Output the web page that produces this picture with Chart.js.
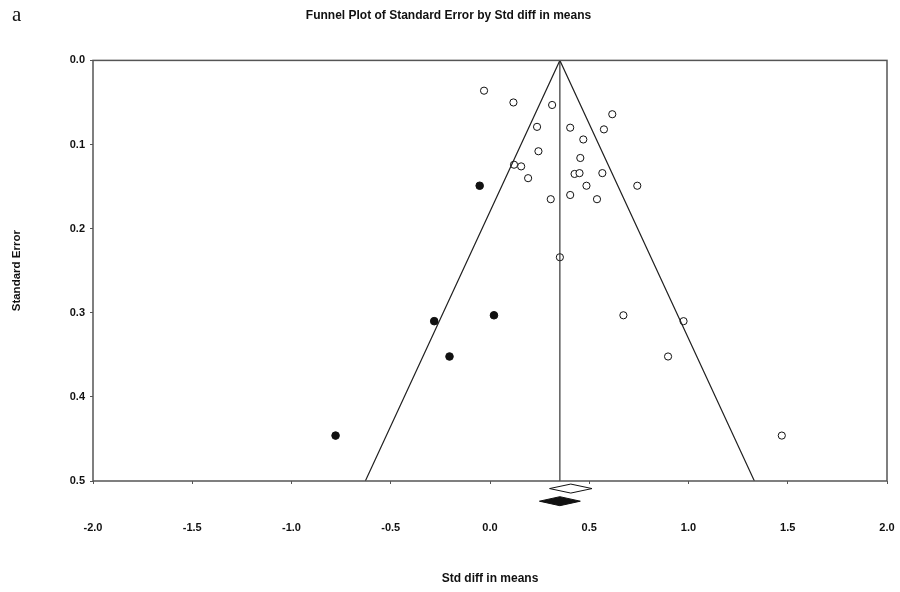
<!DOCTYPE html>
<html>
<head>
<meta charset="utf-8">
<script src="https://cdn.jsdelivr.net/npm/chart.js@4.4.1/dist/chart.umd.min.js"></script>
<style>
body { margin: 0; background: #fff; }
#wrap { position: relative; width: 900px; height: 592px; }
#tag { position: absolute; left: 12px; top: 2px; font: 21px "Liberation Serif", serif; color: #111; }
</style>
</head>
<body>
<div id="wrap">
  <canvas id="funnel" width="900" height="592"></canvas>
  <div id="tag">a</div>
</div>
<script>
// observed studies (open circles)
var observedX = [-0.030, 0.118, 0.313, 0.616, 0.237, 0.404, 0.574, 0.470, 0.244, 0.455, 0.121, 0.157, 0.426,
                 0.451, 0.566, 0.192, 0.486, 0.742, 0.404, 0.306, 0.539, 0.352, 0.672, 0.975, 0.897, 1.470];
var observedSE = [0.036, 0.050, 0.053, 0.064, 0.079, 0.080, 0.082, 0.094, 0.108, 0.116, 0.124, 0.126, 0.135,
                  0.134, 0.134, 0.140, 0.149, 0.149, 0.160, 0.165, 0.165, 0.234, 0.303, 0.310, 0.352, 0.446];

// imputed studies (filled circles, trim and fill)
var imputedX = [-0.052, -0.281, 0.020, -0.204, -0.778];
var imputedSE = [0.149, 0.310, 0.303, 0.352, 0.446];

// funnel
var funnelCenter = 0.352;
var funnelZ = 1.96;
var seMax = 0.5;

// summary diamonds: observed (open) and adjusted (filled)
var summaryNames = ['Observed', 'Adjusted'];
var summaryMean = [0.407, 0.352];
var summaryLow = [0.300, 0.249];
var summaryHigh = [0.514, 0.455];
var summaryRow = [0.509, 0.524];

var xTicks = [-2.0, -1.5, -1.0, -0.5, 0.0, 0.5, 1.0, 1.5, 2.0];
var yTicks = [0.0, 0.1, 0.2, 0.3, 0.4, 0.5];

function pairs(xs, ys) {
    return xs.map(function (x, i) { return { x: x, y: ys[i] }; });
}

var framePlugin = {
    id: 'frame',
    afterDatasetsDraw: function (chart) {
        var ctx = chart.ctx, a = chart.chartArea;
        var xs = chart.scales.x, ys = chart.scales.y;
        ctx.save();
        ctx.strokeStyle = '#555';
        ctx.lineWidth = 1.5;
        ctx.strokeRect(a.left, a.top, a.right - a.left, a.bottom - a.top);

        // diamonds
        for (var i = 0; i < summaryMean.length; i++) {
            var yc = ys.getPixelForValue(summaryRow[i]);
            ctx.beginPath();
            ctx.moveTo(xs.getPixelForValue(summaryLow[i]), yc);
            ctx.lineTo(xs.getPixelForValue(summaryMean[i]), yc - 4.5);
            ctx.lineTo(xs.getPixelForValue(summaryHigh[i]), yc);
            ctx.lineTo(xs.getPixelForValue(summaryMean[i]), yc + 4.5);
            ctx.closePath();
            ctx.fillStyle = i === 0 ? '#fff' : '#111';
            ctx.fill();
            ctx.strokeStyle = '#111';
            ctx.lineWidth = 1;
            ctx.stroke();
        }
        ctx.restore();
    }
};

var tickFont = { family: '"Liberation Sans", Arial, sans-serif', size: 11, weight: 'bold' };

new Chart(document.getElementById('funnel'), {
    type: 'scatter',
    data: {
        datasets: [{
            label: 'Funnel',
            type: 'line',
            data: [
                { x: funnelCenter - funnelZ * seMax, y: seMax },
                { x: funnelCenter, y: 0 },
                { x: funnelCenter + funnelZ * seMax, y: seMax }
            ],
            borderColor: '#222',
            borderWidth: 1.2,
            pointRadius: 0,
            fill: false
        }, {
            label: 'Center',
            type: 'line',
            data: [{ x: funnelCenter, y: 0 }, { x: funnelCenter, y: seMax }],
            borderColor: '#333',
            borderWidth: 1.2,
            pointRadius: 0,
            fill: false
        }, {
            label: 'Observed',
            data: pairs(observedX, observedSE),
            pointRadius: 3.6,
            pointBackgroundColor: '#fff',
            pointBorderColor: '#111',
            pointBorderWidth: 1
        }, {
            label: 'Imputed',
            data: pairs(imputedX, imputedSE),
            pointRadius: 3.8,
            pointBackgroundColor: '#111',
            pointBorderColor: '#111',
            pointBorderWidth: 1
        }]
    },
    options: {
        responsive: false,
        animation: false,
        layout: { padding: { left: 10, right: 13, top: 0, bottom: 0 } },
        plugins: {
            legend: { display: false },
            tooltip: { enabled: false },
            title: {
                display: true,
                text: 'Funnel Plot of Standard Error by Std diff in means',
                color: '#111',
                font: { family: '"Liberation Sans", Arial, sans-serif', size: 12, weight: 'bold' },
                padding: { top: 8, bottom: 38 }
            }
        },
        scales: {
            x: {
                type: 'linear',
                min: -2, max: 2,
                afterBuildTicks: function (s) { s.ticks = xTicks.map(function (v) { return { value: v }; }); },
                afterFit: function (s) {
                    s.height = 111;
                    s.paddingLeft = 0;
                    s.paddingRight = 13;
                },
                ticks: {
                    color: '#111', font: tickFont, padding: 37,
                    callback: function (v) { return v.toFixed(1); }
                },
                grid: { drawOnChartArea: false, tickLength: 3, color: '#555' },
                border: { display: false },
                title: {
                    display: true, text: 'Std diff in means', color: '#111',
                    font: { family: '"Liberation Sans", Arial, sans-serif', size: 12, weight: 'bold' },
                    padding: { top: 0, bottom: 6 }
                }
            },
            y: {
                type: 'linear',
                reverse: true,
                min: 0, max: 0.5,
                afterBuildTicks: function (s) { s.ticks = yTicks.map(function (v) { return { value: v }; }); },
                afterFit: function (s) { s.width = 83; },
                ticks: {
                    color: '#111', font: tickFont, padding: 5,
                    callback: function (v) { return v.toFixed(1); }
                },
                grid: { drawOnChartArea: false, tickLength: 3, color: '#555' },
                border: { display: false },
                title: {
                    display: true, text: 'Standard Error', color: '#111',
                    font: { family: '"Liberation Sans", Arial, sans-serif', size: 11.5, weight: 'bold' },
                    padding: { top: 0, bottom: 0 }
                }
            }
        }
    },
    plugins: [framePlugin]
});
</script>
</body>
</html>
